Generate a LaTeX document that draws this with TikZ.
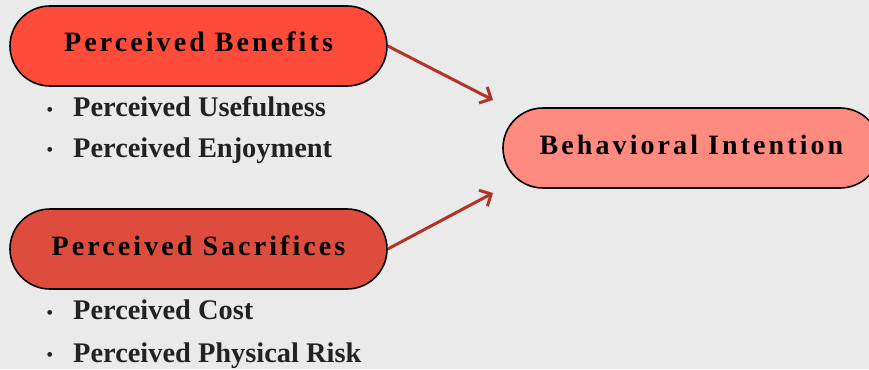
\documentclass[tikz,border=0pt]{standalone}
\usepackage{fontspec}
\setmainfont{Liberation Serif}
\usetikzlibrary{arrows.meta}
\definecolor{bgc}{HTML}{EAEAEA}
\definecolor{benc}{HTML}{FF4B3A}
\definecolor{sacc}{HTML}{DE4C3E}
\definecolor{behc}{HTML}{FF8A80}
\definecolor{arrc}{HTML}{B0342A}
\definecolor{itemc}{HTML}{222222}
\newfontfamily\spacedfont[LetterSpace=11]{Liberation Serif}
\tikzset{
  pill/.style={draw=black, line width=1.6pt, rounded corners=40pt,
    minimum width=377pt, minimum height=80pt, inner sep=0pt,
    text height=19pt, text depth=7pt,
    font=\spacedfont\bfseries\fontsize{28}{28}\selectfont},
  itemtext/.style={anchor=base west, inner sep=0pt, text=itemc,
    font=\bfseries\fontsize{28.4}{28.4}\selectfont},
  bulletmark/.style={inner sep=0pt, text=itemc,
    font=\fontsize{20}{20}\selectfont},
  link/.style={draw=arrc, line width=3pt,
    -{Straight Barb[length=9pt,width=18pt,line width=3pt]}}
}
\begin{document}
\begin{tikzpicture}[x=1pt,y=1pt]
\fill[bgc] (0,0) rectangle (869,-369);
\useasboundingbox (0,0) rectangle (869,-369);
\clip (0,0) rectangle (869,-369);
\node[pill, fill=benc] (ben) at (198.5,-46) {Perceived Benefits};
\node[pill, fill=sacc] (sac) at (198.5,-249) {Perceived Sacrifices};
\node[pill, fill=behc] (beh) at (691.5,-148) {Behavioral Intention};
\node[bulletmark] (b1) at (50,-112) {•};
\node[itemtext] (i1) at (73,-116) {Perceived Usefulness};
\node[bulletmark] (b2) at (50,-152) {•};
\node[itemtext] (i2) at (73,-157) {Perceived Enjoyment};
\node[bulletmark] (b3) at (50,-315) {•};
\node[itemtext] (i3) at (73,-319) {Perceived Cost};
\node[bulletmark] (b4) at (50,-357) {•};
\node[itemtext] (i4) at (73,-362) {Perceived Physical Risk};
\coordinate (t1) at (493,-100);
\coordinate (t2) at (493,-193);
\draw[link] (ben.east) -- (t1);
\draw[link] (sac.east) -- (t2);
\end{tikzpicture}
\end{document}
